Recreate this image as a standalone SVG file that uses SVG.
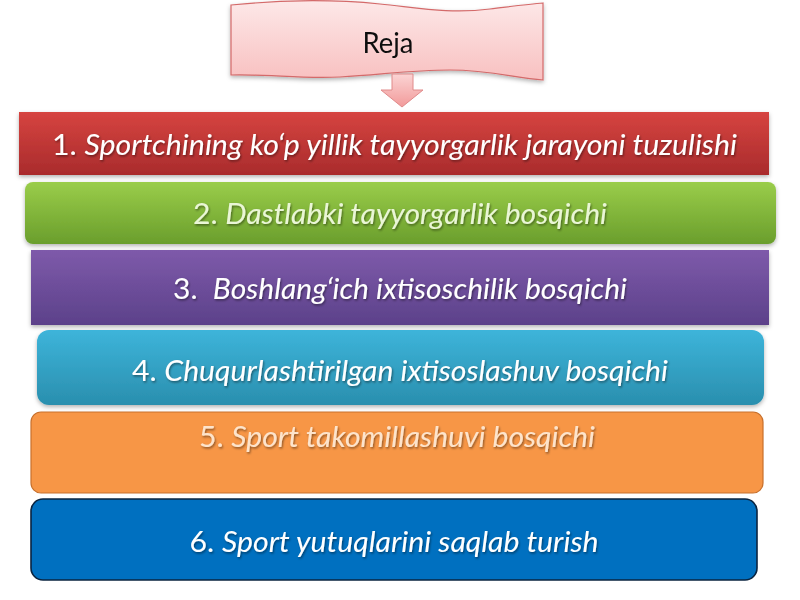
<svg xmlns="http://www.w3.org/2000/svg" width="800" height="600" viewBox="0 0 800 600">
<defs>
<linearGradient id="gPink" x1="0" y1="0" x2="0" y2="1"><stop offset="0" stop-color="#fde8e8"/><stop offset="1" stop-color="#f8c0c0"/></linearGradient>
<linearGradient id="gArrow" x1="0" y1="0" x2="0" y2="1"><stop offset="0" stop-color="#fbd4d4"/><stop offset="1" stop-color="#f29a9a"/></linearGradient>
<linearGradient id="gRed" x1="0" y1="0" x2="0" y2="1"><stop offset="0" stop-color="#d64440"/><stop offset="1" stop-color="#a92b2c"/></linearGradient>
<linearGradient id="gGreen" x1="0" y1="0" x2="0" y2="1"><stop offset="0" stop-color="#9acd4a"/><stop offset="1" stop-color="#6a9e2c"/></linearGradient>
<linearGradient id="gPurple" x1="0" y1="0" x2="0" y2="1"><stop offset="0" stop-color="#7e5aaa"/><stop offset="1" stop-color="#5c418a"/></linearGradient>
<linearGradient id="gCyan" x1="0" y1="0" x2="0" y2="1"><stop offset="0" stop-color="#3db4da"/><stop offset="1" stop-color="#2a8fae"/></linearGradient>
<filter id="sh" x="-5%" y="-20%" width="110%" height="150%"><feDropShadow dx="0" dy="2" stdDeviation="2" flood-color="#000" flood-opacity="0.3"/></filter>
<filter id="tsh" x="-5%" y="-30%" width="110%" height="160%"><feDropShadow dx="1" dy="1.5" stdDeviation="0.8" flood-color="#000" flood-opacity="0.45"/></filter>
</defs>
<style>
text{font-family:Lato,"Liberation Sans",sans-serif;text-anchor:middle}
.lbl{font-size:28px;fill:#ffffff;font-style:italic}
.n{font-style:normal}
</style>
<rect width="800" height="600" fill="#ffffff"/>
<g id="reja" filter="url(#sh)">
<path d="M231,5 C280,0 330,-1 380,4 C420,8 450,14 490,9 C515,6 530,4 543,3 L543,80 C515,78 490,70 450,70 C410,70 380,75 340,77 C300,79 270,74 231,75 Z" fill="url(#gPink)" stroke="#d46a6a" stroke-width="1.2"/>
<text x="388" y="53" style="font-size:28px;fill:#111" textLength="51" lengthAdjust="spacingAndGlyphs">Reja</text>
</g>
<g id="connectors">
<polygon points="392,74 413,74 413,90 423,90 402,107 381,90 392,90" fill="url(#gArrow)" stroke="#e08a8a" stroke-width="1"/>
</g>
<g id="bar1">
<rect x="19" y="112" width="750" height="63" fill="url(#gRed)" filter="url(#sh)"/>
<text class="lbl" x="394.5" y="155" textLength="685" lengthAdjust="spacingAndGlyphs" filter="url(#tsh)"><tspan class="n">1. </tspan>Sportchining ko‘p yillik tayyorgarlik jarayoni tuzulishi</text>
</g>
<g id="bar2">
<rect x="25" y="182" width="751" height="62" rx="8" fill="url(#gGreen)" filter="url(#sh)"/>
<text class="lbl" x="400" y="224" textLength="414" lengthAdjust="spacingAndGlyphs" style="fill:#eaf6d6" filter="url(#tsh)"><tspan class="n">2. </tspan>Dastlabki tayyorgarlik bosqichi</text>
</g>
<g id="bar3">
<rect x="31" y="250" width="738" height="75" fill="url(#gPurple)" filter="url(#sh)"/>
<text class="lbl" x="400" y="299" textLength="454" lengthAdjust="spacingAndGlyphs" filter="url(#tsh)"><tspan class="n">3.&#160; </tspan>Boshlang‘ich ixtisoschilik bosqichi</text>
</g>
<g id="bar4">
<rect x="37" y="330" width="727" height="75" rx="12" fill="url(#gCyan)" filter="url(#sh)"/>
<text class="lbl" x="400" y="381" textLength="536" lengthAdjust="spacingAndGlyphs" filter="url(#tsh)"><tspan class="n">4. </tspan>Chuqurlashtirilgan ixtisoslashuv bosqichi</text>
</g>
<g id="bar5">
<rect x="31" y="412" width="732" height="81" rx="10" fill="#f79646" stroke="#c8702c" stroke-width="1.2"/>
<text class="lbl" x="397" y="447" textLength="396" lengthAdjust="spacingAndGlyphs" style="fill:#fde4cc" filter="url(#tsh)"><tspan class="n">5. </tspan>Sport takomillashuvi bosqichi</text>
</g>
<g id="bar6">
<rect x="31" y="499" width="726" height="81" rx="12" fill="#0070c0" stroke="#0a2440" stroke-width="1.6"/>
<text class="lbl" x="394" y="552" textLength="409" lengthAdjust="spacingAndGlyphs" filter="url(#tsh)"><tspan class="n">6. </tspan>Sport yutuqlarini saqlab turish</text>
</g>
</svg>
